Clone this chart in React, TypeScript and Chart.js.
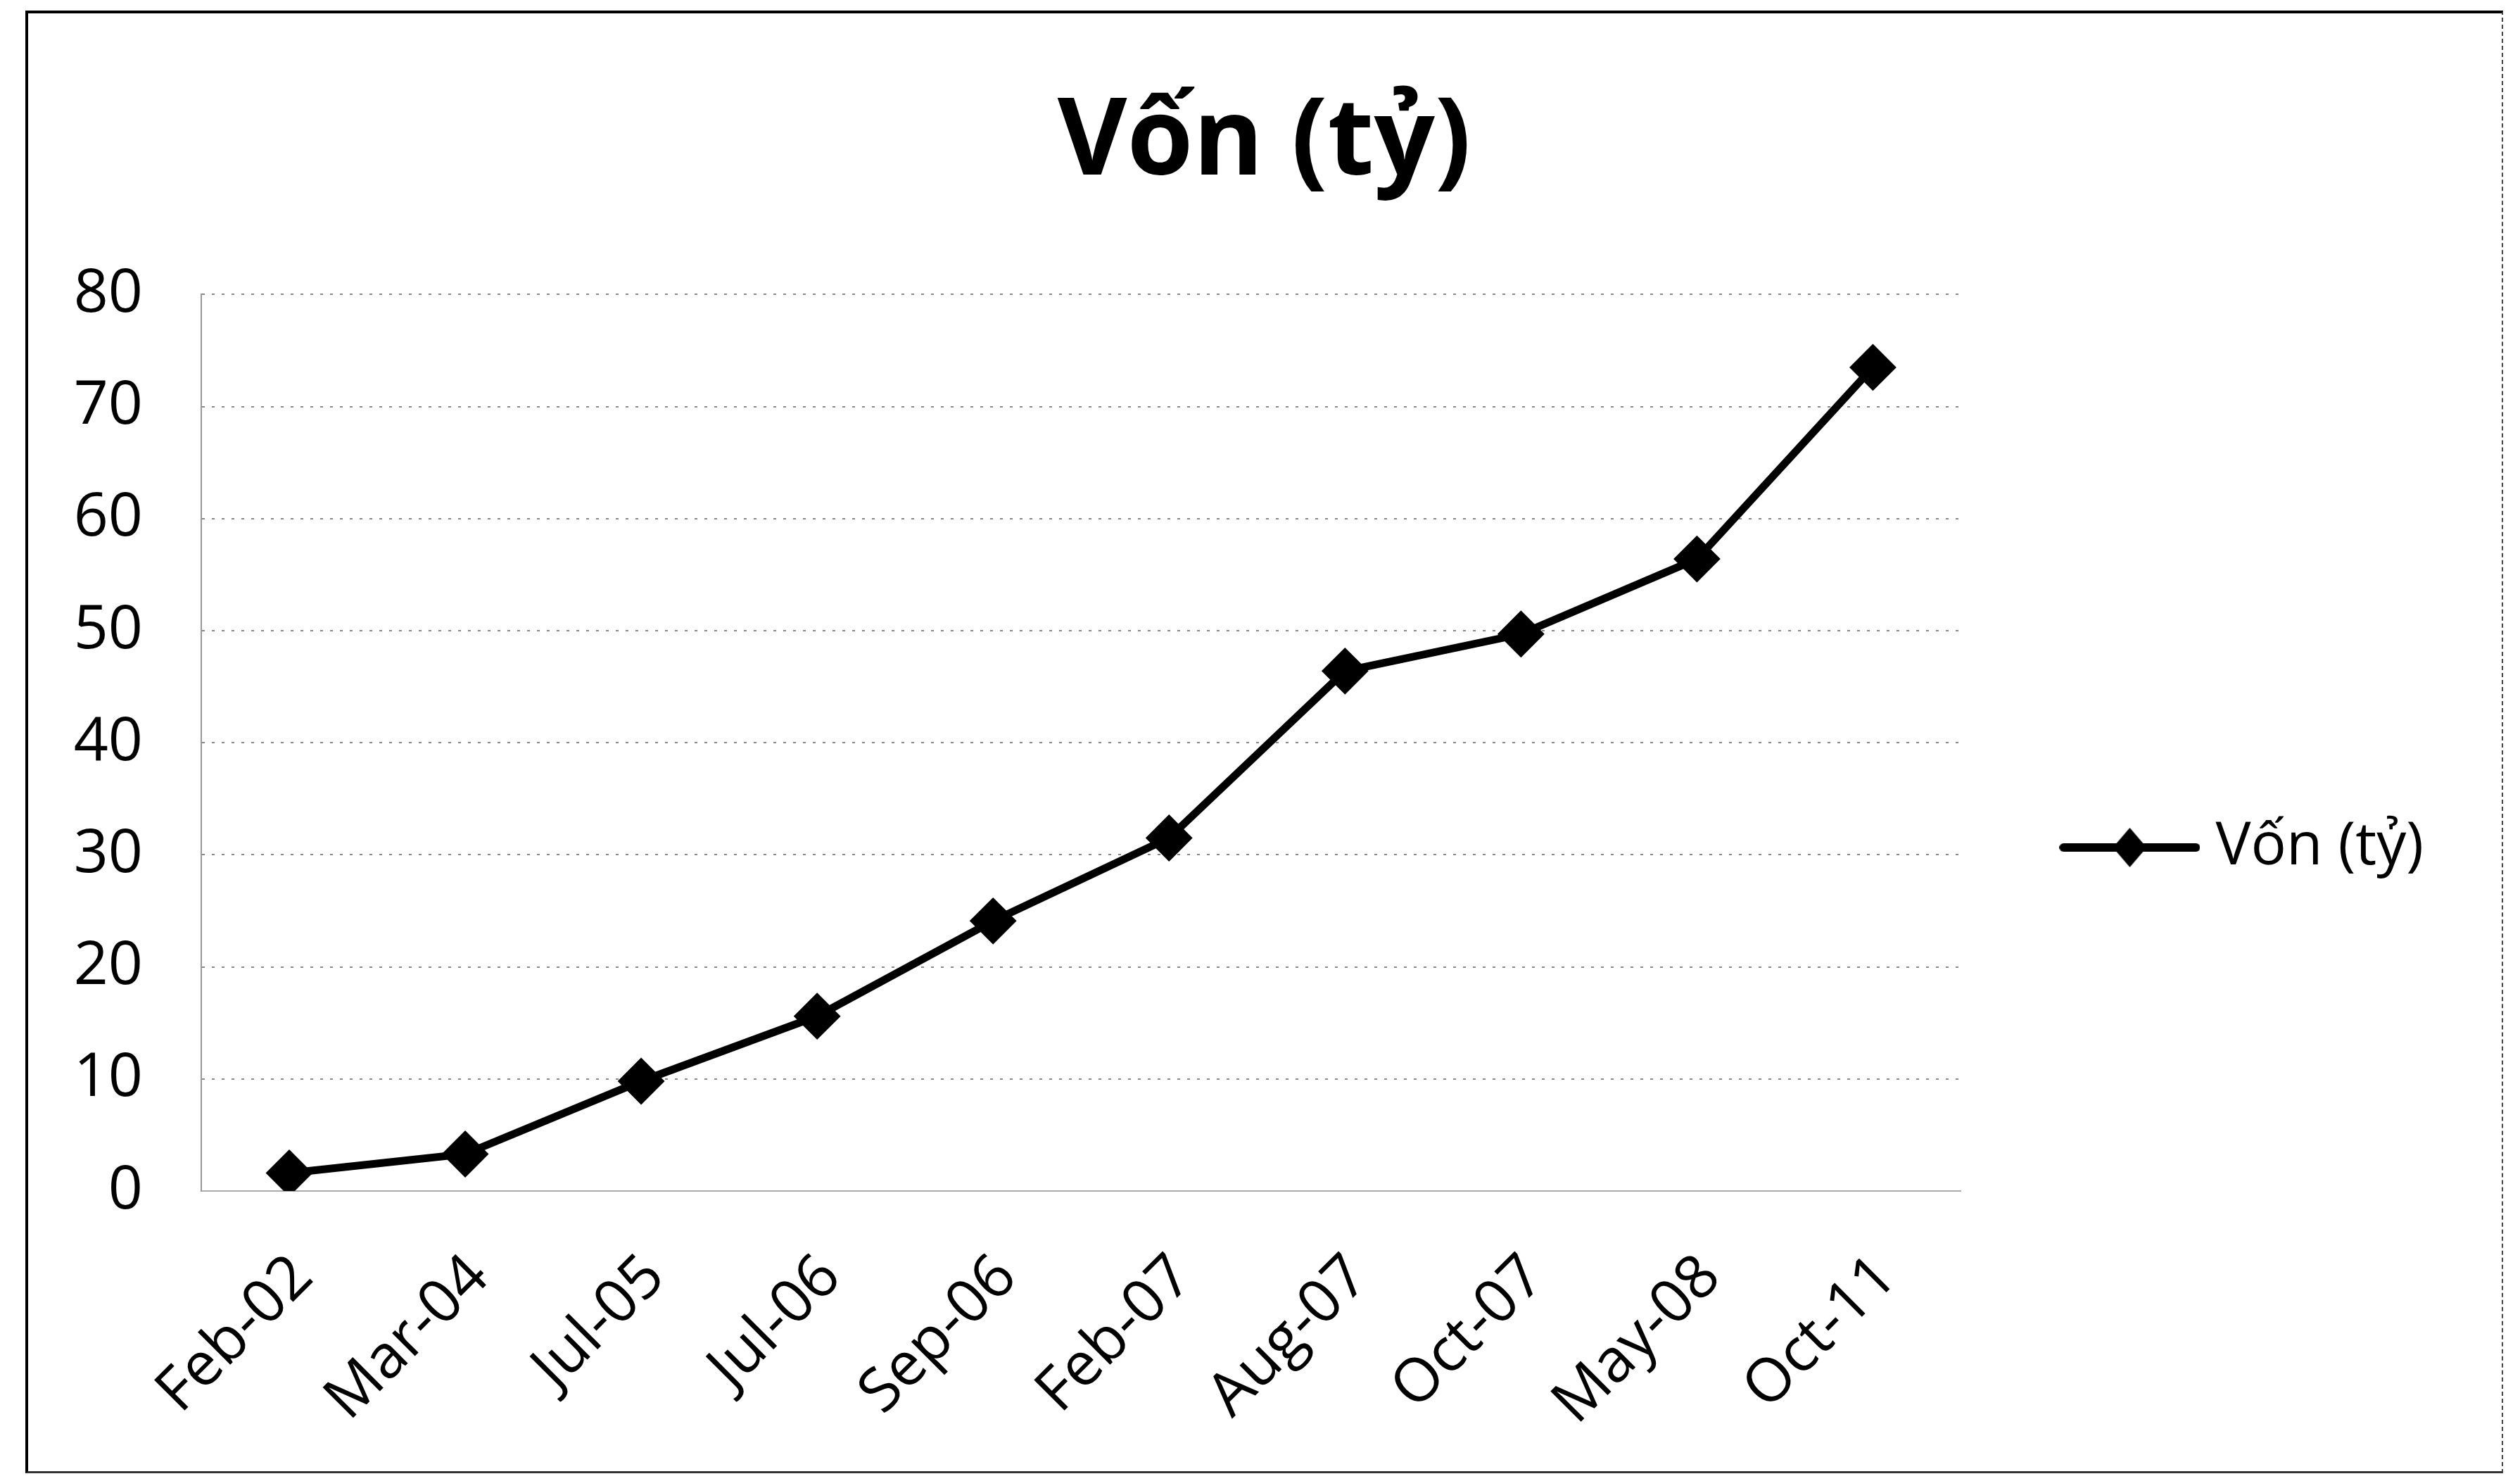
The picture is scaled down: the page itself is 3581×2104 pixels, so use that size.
import React, { useEffect, useRef } from 'react';
import { Chart, registerables, layouts } from 'chart.js';

Chart.register(...registerables);

// ---- data ----
const chartTitle = 'Vốn (tỷ)';
const seriesLabel = 'Vốn (tỷ)';
const categories = ['Feb-02', 'Mar-04', 'Jul-05', 'Jul-06', 'Sep-06', 'Feb-07', 'Aug-07', 'Oct-07', 'May-08', 'Oct-11'];
const seriesValues = [1.6, 3.3, 9.8, 15.6, 24.1, 31.5, 46.4, 49.7, 56.4, 73.5];
const yTickValues = [0, 10, 20, 30, 40, 50, 60, 70, 80];

const CANVAS_W = 3513;
const CANVAS_H = 2070;
const FONT = 'Open Sans';
const RIGHT_SPACE = 99;

function makeLegendMarker(): HTMLCanvasElement {
  const c = document.createElement('canvas');
  c.width = 200;
  c.height = 64;
  const ctx = c.getContext('2d') as CanvasRenderingContext2D;
  ctx.strokeStyle = '#000';
  ctx.lineWidth = 12;
  ctx.lineCap = 'round';
  ctx.beginPath();
  ctx.moveTo(6, 32);
  ctx.lineTo(194, 32);
  ctx.stroke();
  ctx.fillStyle = '#000';
  ctx.beginPath();
  ctx.moveTo(100, 4);
  ctx.lineTo(124, 32);
  ctx.lineTo(100, 60);
  ctx.lineTo(76, 32);
  ctx.closePath();
  ctx.fill();
  return c;
}

// empty layout box on the far right, so the title stays centred on the full canvas
const rightSpacer = {
  id: 'rightSpacer',
  beforeInit(chart: any) {
    const box: any = {
      position: 'right',
      weight: 2000,
      fullSize: true,
      options: { display: false },
      left: 0,
      top: 0,
      right: 0,
      bottom: 0,
      width: RIGHT_SPACE,
      height: 0,
      isHorizontal: () => false,
      update(_maxWidth: number, maxHeight: number) {
        box.width = RIGHT_SPACE;
        box.height = maxHeight;
      },
      draw() {},
    };
    layouts.addBox(chart, box);
  },
};

export default function App() {
  const canvasRef = useRef<HTMLCanvasElement | null>(null);

  useEffect(() => {
    const canvas = canvasRef.current;
    if (!canvas) return;
    const marker = makeLegendMarker();
    Chart.defaults.font.family = FONT;
    Chart.defaults.color = '#000';

    const chart = new Chart(canvas, {
      type: 'line',
      data: {
        labels: categories,
        datasets: [
          {
            label: seriesLabel,
            data: seriesValues,
            borderColor: '#000',
            backgroundColor: '#000',
            borderWidth: 11,
            tension: 0,
            pointStyle: 'rectRot',
            pointRadius: 32,
            pointBackgroundColor: '#000',
            pointBorderColor: '#000',
            pointBorderWidth: 2,
          },
        ],
      },
      plugins: [rightSpacer as any],
      options: {
        animation: false,
        responsive: false,
        devicePixelRatio: 1,
        layout: { padding: { left: 0, right: 0, top: 0, bottom: 0 } },
        plugins: {
          title: {
            display: true,
            text: chartTitle,
            color: '#000',
            font: { family: FONT, size: 152, weight: 'bold', lineHeight: 1.2 },
            padding: { top: 95, bottom: 122 },
          },
          legend: {
            display: true,
            position: 'right',
            align: 'center',
            title: { display: true, text: '', font: { size: 10, lineHeight: 1 }, padding: { top: 290, bottom: 0 } },
            labels: {
              usePointStyle: true,
              pointStyle: marker as any,
              pointStyleWidth: 160,
              padding: 160,
              color: '#000',
              font: { family: FONT, size: 84 },
            },
          },
          tooltip: { enabled: false },
        },
        scales: {
          x: {
            offset: true,
            grid: { display: false, drawTicks: false },
            border: { display: true, color: '#aaa', width: 2 },
            ticks: {
              autoSkip: false,
              minRotation: 45,
              maxRotation: 45,
              padding: 72,
              labelOffset: 20,
              color: '#000',
              font: { family: FONT, size: 86 },
            },
            afterFit: (s: any) => {
              s.height = 397;
            },
          },
          y: {
            min: yTickValues[0],
            max: yTickValues[yTickValues.length - 1],
            grid: { color: '#888', lineWidth: 2, drawTicks: false },
            border: { display: true, color: '#999', width: 2, dash: [4, 10] },
            ticks: {
              stepSize: 10,
              padding: 83,
              color: '#000',
              font: { family: FONT, size: 86 },
            },
            afterBuildTicks: (s: any) => {
              s.ticks = yTickValues.map((v) => ({ value: v }));
            },
            afterFit: (s: any) => {
              s.width = 246;
            },
          },
        },
      },
    });
    return () => chart.destroy();
  }, []);

  return (
    <div style={{ position: 'fixed', left: 0, top: 0, width: 3581, height: 2104, background: '#fff' }}>
      <div
        style={{
          position: 'absolute',
          left: 36,
          top: 15,
          width: 3521,
          height: 2078,
          boxSizing: 'border-box',
          borderLeft: '4px solid #000',
          borderTop: '4px solid #000',
          borderRight: '2px dashed #444',
          borderBottom: '3px solid #333',
        }}
      >
        <canvas
          ref={canvasRef}
          width={CANVAS_W}
          height={CANVAS_H}
          style={{ position: 'absolute', left: 0, top: 0, width: CANVAS_W, height: CANVAS_H }}
        />
      </div>
    </div>
  );
}
